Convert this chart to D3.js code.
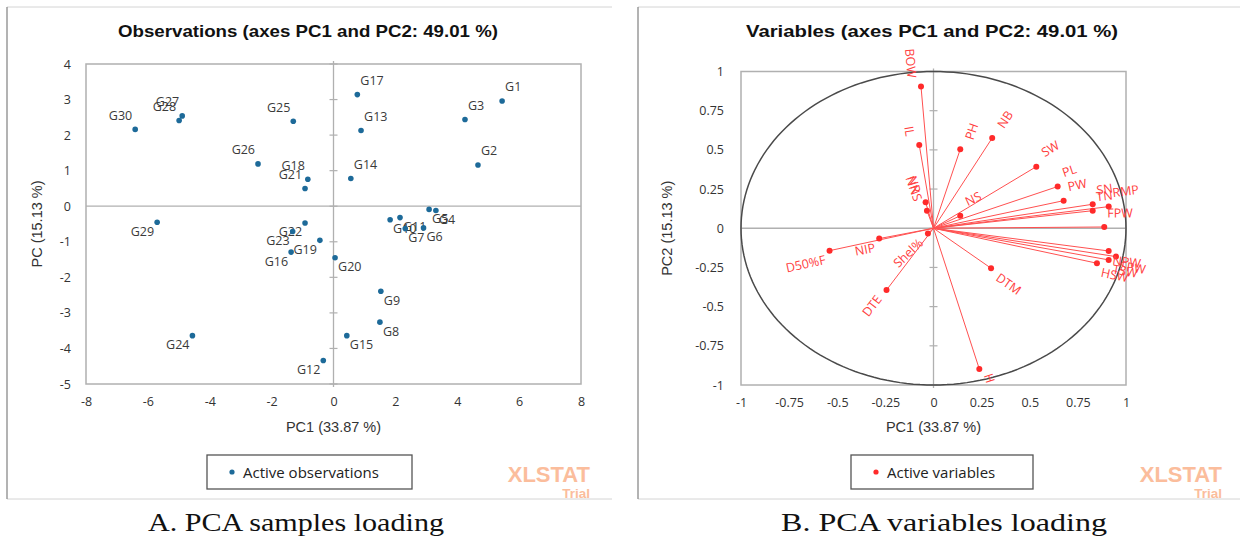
<!DOCTYPE html>
<html><head><meta charset="utf-8">
<script src="https://cdn.jsdelivr.net/npm/d3@7"></script>
<style>
html,body{margin:0;padding:0;background:#fff;}
svg{display:block;}
</style></head>
<body>
<svg id="c" width="1255" height="544"></svg>
<script>
// ---------- DATA ----------
const obsNames = ["G1","G2","G3","G4","G5","G6","G7","G8","G9","G10","G11","G12","G13","G14","G15","G16","G17","G18","G19","G20","G21","G22","G23","G24","G25","G26","G27","G28","G29","G30"];
const obsPC1 = [5.45,4.67,4.25,3.31,3.09,2.91,2.32,1.50,1.53,1.83,2.15,-0.33,0.89,0.56,0.43,-1.37,0.77,-0.83,-0.44,0.05,-0.92,-0.92,-1.32,-4.56,-1.30,-2.44,-4.89,-4.99,-5.70,-6.41];
const obsPC2 = [2.96,1.16,2.44,-0.12,-0.09,-0.61,-0.63,-3.26,-2.39,-0.38,-0.32,-4.34,2.13,0.78,-3.64,-1.29,3.14,0.76,-0.96,-1.45,0.50,-0.47,-0.71,-3.64,2.39,1.19,2.54,2.41,-0.45,2.16];
const obsLabelPos = ["tr","tr","tr","br","br","br","br","br","br","br","br","bl","tr","tr","br","bl","tr","tl","bl","br","tl","bl","bl","bl","tl","tl","tl","tl","bl","tl"];

const varNames = ["BOW","IL","PH","NB","SW","PL","PW","NS","SN","TN","RMP","FPW","NPW","SPW","TSW","HSW","DTM","H","NR","NNS","Shel%","NIP","D50%F","DTE"];
const varPC1 = [-0.065,-0.074,0.139,0.305,0.534,0.645,0.676,0.139,0.827,0.827,0.910,0.887,0.910,0.948,0.910,0.849,0.299,0.238,-0.041,-0.034,-0.029,-0.282,-0.540,-0.244];
const varPC2 = [0.905,0.531,0.504,0.576,0.393,0.266,0.176,0.080,0.153,0.112,0.138,0.008,-0.145,-0.181,-0.202,-0.223,-0.255,-0.898,0.166,0.112,-0.034,-0.066,-0.143,-0.394];
const varLabelPos = ["tl","tl","tr","tr","tr","tr","tr","tr","tr","tr","tr","tr","br","br","br","br","br","br","tl","tl","bl","bl","bl","bl"];

const obsXTicks = [-8,-6,-4,-2,0,2,4,6,8];
const obsYTicks = [-5,-4,-3,-2,-1,0,1,2,3,4];
const varTicks = [-1,-0.75,-0.5,-0.25,0,0.25,0.5,0.75,1];

const titleA = "Observations (axes PC1 and PC2: 49.01 %)";
const titleB = "Variables (axes PC1 and PC2: 49.01 %)";
const xTitle = "PC1 (33.87 %)";
const yTitleA = "PC (15.13 %)";
const yTitleB = "PC2 (15.13 %)";
const legendA = "Active observations";
const legendB = "Active variables";
const captionA = "A. PCA samples loading";
const captionB = "B. PCA variables loading";

// ---------- DRAW ----------
const svg = d3.select("#c");
const SANS = "'Liberation Sans', Arial, sans-serif";
const UI = "'Open Sans', 'Noto Sans', sans-serif";
const GRID = "#b0b0b0";

function panel(o) {
  const g = svg.append("g");
  g.append("line").attr("x1",o.fx0).attr("x2",o.fx1).attr("y1",o.fy0).attr("y2",o.fy0).attr("stroke","#d4d4d4");
  g.append("line").attr("x1",o.fx0).attr("x2",o.fx1).attr("y1",o.fy1).attr("y2",o.fy1).attr("stroke","#d4d4d4");
  g.append("line").attr("x1",o.fx0).attr("x2",o.fx0).attr("y1",o.fy0).attr("y2",o.fy1).attr("stroke","#8a8a8a").attr("stroke-width",1.3);
  g.append("text").attr("x",o.cx).attr("y",37).attr("text-anchor","middle")
    .attr("font-family",SANS).attr("font-weight","bold").attr("font-size",16.5).attr("fill","#111")
    .attr("textLength",o.titleLen).attr("lengthAdjust","spacingAndGlyphs").text(o.title);
  const x = o.x, y = o.y;
  g.append("rect").attr("x",x.range()[0]).attr("y",y.range()[1])
    .attr("width",x.range()[1]-x.range()[0]).attr("height",y.range()[0]-y.range()[1])
    .attr("fill","none").attr("stroke",GRID).attr("stroke-width",1.5);
  g.append("line").attr("x1",x.range()[0]).attr("x2",x.range()[1]).attr("y1",y(0)).attr("y2",y(0)).attr("stroke",GRID).attr("stroke-width",1.3);
  g.append("line").attr("x1",x(0)).attr("x2",x(0)).attr("y1",y.range()[0]+3).attr("y2",y.range()[1]-3).attr("stroke",GRID).attr("stroke-width",1.3);
  g.selectAll(null).data(o.yTicks).enter().append("line")
    .attr("x1",x(0)-4).attr("x2",x(0)+4).attr("y1",d=>y(d)).attr("y2",d=>y(d)).attr("stroke",GRID).attr("stroke-width",1.2);
  const ax = g.append("g").attr("transform",`translate(0,${y.range()[0]})`)
    .call(d3.axisBottom(x).tickValues(o.xTicks).tickSize(0).tickPadding(13).tickFormat(d=>String(d)));
  const ay = g.append("g").attr("transform",`translate(${x.range()[0]},0)`)
    .call(d3.axisLeft(y).tickValues(o.yTicks).tickSize(0).tickPadding(o.yPad).tickFormat(d=>String(d)));
  [ax,ay].forEach(a=>{
    a.select(".domain").remove();
    a.selectAll("text").attr("font-family",UI).attr("font-size",12.5).attr("fill","#333");
  });
  g.append("text").attr("x",x(0)).attr("y",432).attr("text-anchor","middle")
    .attr("font-family",SANS).attr("font-size",14.5).attr("fill","#333").text(xTitle);
  g.append("text").attr("transform",`translate(${o.yTitleX},${(y.range()[0]+y.range()[1])/2}) rotate(-90)`)
    .attr("text-anchor","middle").attr("font-family",SANS).attr("font-size",14.5).attr("fill","#333").text(o.yTitle);
  g.append("rect").attr("x",o.lx).attr("y",455).attr("width",o.lw).attr("height",34)
    .attr("fill","#fff").attr("stroke","#555").attr("stroke-width",1.3);
  g.append("circle").attr("cx",o.lx+25).attr("cy",472).attr("r",2.6).attr("fill",o.color);
  g.append("text").attr("x",o.lx+36).attr("y",477.5).attr("font-family",UI).attr("font-size",15).attr("fill","#222").text(o.legend);
  g.append("text").attr("x",o.wx).attr("y",482).attr("text-anchor","end").attr("font-family",SANS)
    .attr("font-weight","bold").attr("font-size",22).attr("fill","#fbbd9c").text("XLSTAT");
  g.append("text").attr("x",o.wx).attr("y",498).attr("text-anchor","end").attr("font-family",SANS)
    .attr("font-weight","bold").attr("font-size",13.5).attr("fill","#fbbd9c").text("Trial");
  g.append("text").attr("x",o.capX).attr("y",531).attr("text-anchor","middle")
    .attr("font-family","'Liberation Serif', 'DejaVu Serif', serif").attr("font-size",25).attr("fill","#111")
    .attr("textLength",o.capLen).attr("lengthAdjust","spacingAndGlyphs").text(o.caption);
  return g;
}

function placeLabel(g, px, py, name, pos, angle, color, fs) {
  const t = g.append("text").attr("font-family",UI).attr("font-size",fs).attr("fill",color)
    .attr("text-anchor","middle").attr("dominant-baseline","central").text(name);
  const w = t.node().getComputedTextLength(), h = 12;
  const r = angle*Math.PI/180;
  const bw = w*Math.abs(Math.cos(r)) + h*Math.abs(Math.sin(r));
  const bh = w*Math.abs(Math.sin(r)) + h*Math.abs(Math.cos(r));
  const sx = pos[1]==="r" ? 1 : -1;
  const cx = px + sx*(3 + bw/2);
  const cy = pos[0]==="t" ? py - (8 + bh/2) : py + (3 + bh/2);
  t.attr("transform",`translate(${cx},${cy}) rotate(${angle})`);
}

// ----- Panel A -----
const xA = d3.scaleLinear().domain([-8,8]).range([86,581]);
const yA = d3.scaleLinear().domain([-5,4]).range([384,64]);
const gA = panel({fx0:7,fx1:612,fy0:7,fy1:499,cx:308,titleLen:380,title:titleA,x:xA,y:yA,
  xTicks:obsXTicks,yTicks:obsYTicks,yPad:15,yTitleX:42,yTitle:yTitleA,lx:207,lw:205,
  color:"#1d6a99",legend:legendA,wx:590,capX:296,capLen:296,caption:captionA});
const obs = obsNames.map((n,i)=>({n,x:obsPC1[i],y:obsPC2[i],p:obsLabelPos[i]}));
obs.forEach(d=>placeLabel(gA, xA(d.x), yA(d.y), d.n, d.p, 0, "#3a3a3a", 12.5));
gA.selectAll(null).data(obs).enter().append("circle")
  .attr("cx",d=>xA(d.x)).attr("cy",d=>yA(d.y)).attr("r",2.8).attr("fill","#1d6a99");

// ----- Panel B -----
const xB = d3.scaleLinear().domain([-1,1]).range([741,1126]);
const yB = d3.scaleLinear().domain([-1,1]).range([385,71.5]);
const gB = panel({fx0:638,fx1:1240,fy0:7,fy1:499,cx:932,titleLen:372,title:titleB,x:xB,y:yB,
  xTicks:varTicks,yTicks:varTicks,yPad:17,yTitleX:672,yTitle:yTitleB,lx:851,lw:182,
  color:"#ff2a2a",legend:legendB,wx:1222,capX:944,capLen:326,caption:captionB});
const circ = d3.range(0,361,2).map(a=>[Math.cos(a*Math.PI/180),Math.sin(a*Math.PI/180)]);
gB.append("path").attr("d",d3.line().x(d=>xB(d[0])).y(d=>yB(d[1])).curve(d3.curveLinearClosed)(circ))
  .attr("fill","none").attr("stroke","#4a4a4a").attr("stroke-width",1.5);
const vars = varNames.map((n,i)=>({n,x:varPC1[i],y:varPC2[i],p:varLabelPos[i]}));
gB.selectAll(null).data(vars).enter().append("line")
  .attr("x1",xB(0)).attr("y1",yB(0)).attr("x2",d=>xB(d.x)).attr("y2",d=>yB(d.y))
  .attr("stroke","#ff5050").attr("stroke-width",1);
gB.selectAll(null).data(vars).enter().append("circle")
  .attr("cx",d=>xB(d.x)).attr("cy",d=>yB(d.y)).attr("r",3).attr("fill","#ff2a2a");
vars.forEach(d=>{
  const dx = xB(d.x)-xB(0), dy = yB(d.y)-yB(0);
  let a = Math.atan2(dy,dx)*180/Math.PI;
  if (a > 90) a -= 180; else if (a < -90) a += 180;
  placeLabel(gB, xB(d.x), yB(d.y), d.n, d.p, a, "#ff4040", 12.5);
});
</script>
</body></html>
